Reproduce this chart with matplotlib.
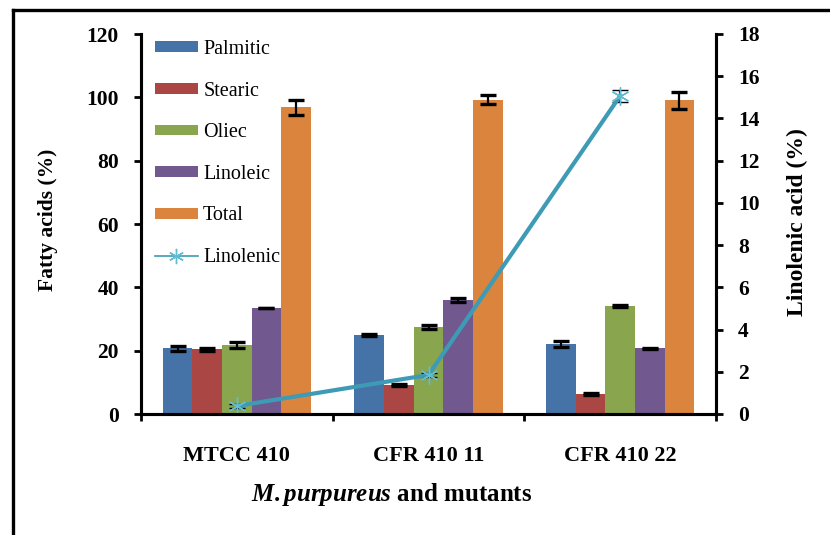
import matplotlib.pyplot as plt
from matplotlib.lines import Line2D
import numpy as np

plt.rcParams['font.family'] = ['Liberation Serif', 'DejaVu Serif']
plt.rcParams['mathtext.fontset'] = 'custom'
plt.rcParams['mathtext.it'] = 'Liberation Serif:bold:italic'
plt.rcParams['mathtext.rm'] = 'Liberation Serif:bold'

strains = ['MTCC 410', 'CFR 410 11', 'CFR 410 22']
acids = ['Palmitic', 'Stearic', 'Oliec', 'Linoleic', 'Total']
values = {
    'Palmitic': [20.7, 24.9, 22.1],
    'Stearic': [20.4, 9.2, 6.3],
    'Oliec': [21.8, 27.5, 34.1],
    'Linoleic': [33.5, 36.0, 20.8],
    'Total': [96.8, 99.3, 99.1],
}
errors = {
    'Palmitic': [0.9, 0.4, 1.0],
    'Stearic': [0.5, 0.4, 0.3],
    'Oliec': [0.9, 0.7, 0.4],
    'Linoleic': [0.0, 0.5, 0.2],
    'Total': [2.5, 1.5, 2.7],
}
linolenic = [0.38, 1.85, 15.07]
linolenic_err = [0.1, 0.1, 0.28]

colors = ['#4572A7', '#AA4643', '#89A54E', '#71588F', '#DB843D']
line_color = '#3E9BB5'

fig = plt.figure(figsize=(8.3, 5.35), dpi=100)
ax = fig.add_axes([141 / 830, 1 - 414 / 535, 575 / 830, 380 / 535])
ax2 = ax.twinx()

x = np.arange(len(strains))
w = 0.1545
handles = []
for i, name in enumerate(acids):
    b = ax.bar(x + (i - 2) * w, values[name], w, color=colors[i], label=name,
               yerr=errors[name], error_kw=dict(ecolor='black', elinewidth=1.6,
                                                capsize=6, capthick=2.4))
    handles.append(b)

ln = ax2.errorbar(x, linolenic, yerr=linolenic_err, color=line_color, lw=3.0,
                  marker=(6, 2, 0), ms=13, mec='#62BCD4', mew=1.0,
                  ecolor='black', elinewidth=1.6, capsize=6, capthick=2.4,
                  label='Linolenic')
legend_line = Line2D([], [], color=line_color, lw=1.2, marker=(6, 2, 0),
                     ms=11, mec='#62BCD4', mew=1.0)

ax.set_xlim(-0.5, 2.5)
ax.set_ylim(0, 120)
ax2.set_ylim(0, 18)
ax.set_yticks(range(0, 121, 20))
ax2.set_yticks(range(0, 19, 2))

ax.set_xticks(x)
ax.set_xticklabels(strains, fontsize=16, fontweight='bold')
ax.set_xticks([-0.5, 0.5, 1.5, 2.5], minor=True)
ax.tick_params(axis='x', which='major', length=0, pad=23)
ax.tick_params(axis='x', which='minor', length=5, width=2)
ax.tick_params(axis='y', length=5, width=2, pad=11, labelsize=15.5)
ax2.tick_params(axis='y', length=5, width=2, pad=11, labelsize=15.5)
for t in ax.get_yticklabels() + ax2.get_yticklabels():
    t.set_fontweight('bold')

for a in (ax, ax2):
    a.spines['top'].set_visible(False)
    for s in ('left', 'right', 'bottom'):
        a.spines[s].set_linewidth(2.2)

leg = ax2.legend(handles + [legend_line], acids + ['Linolenic'],
                 loc='upper left', bbox_to_anchor=(0.024, 0.984), frameon=False,
                 fontsize=14.5, handlelength=2.15, handleheight=0.45,
                 handletextpad=0.25, labelspacing=1.12, borderpad=0,
                 borderaxespad=0)

fig.text(48 / 830, 1 - 220 / 535, 'Fatty acids (%)', rotation=90,
         ha='center', va='center', fontsize=15.5, fontweight='bold')
fig.text(797 / 830, 1 - 222 / 535, 'Linolenic acid (%)', rotation=90,
         ha='center', va='center', fontsize=17, fontweight='bold')
fig.text(392 / 830, 1 - 494 / 535, r'$\it{M.purpureus}$ and mutants',
         ha='center', va='center', fontsize=18, fontweight='bold')

# outer frame
fig.add_artist(Line2D([13 / 830, 13 / 830], [0, 1 - 10 / 535],
                      transform=fig.transFigure, color='black', lw=2.4))
fig.add_artist(Line2D([13 / 830, 1], [1 - 10 / 535, 1 - 10 / 535],
                      transform=fig.transFigure, color='black', lw=2.4))

fig.savefig('out.png', dpi=100)
